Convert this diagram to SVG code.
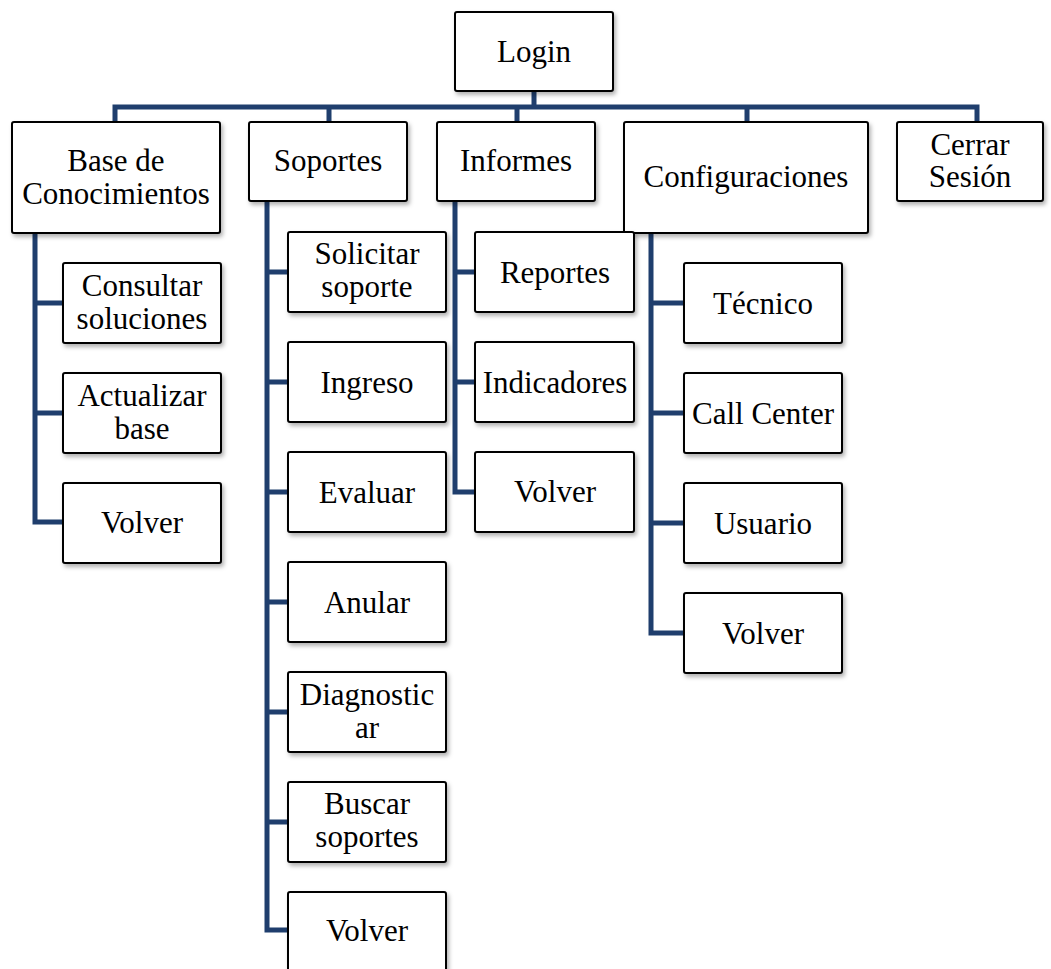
<svg xmlns="http://www.w3.org/2000/svg" width="1051" height="969" viewBox="0 0 1051 969">
  <style>
    .box { fill: #ffffff; stroke: #000000; stroke-width: 2; filter: url(#shadow); }
    .lbl { font-family: "Liberation Serif", "Times New Roman", serif; font-size: 31px; fill: #000000; text-anchor: middle; }
    .wire { fill: none; stroke: #1f3e6d; stroke-width: 5; stroke-linejoin: miter; stroke-linecap: butt; }
  </style>
  <defs>
    <filter id="shadow" x="-10%" y="-10%" width="130%" height="140%">
      <feDropShadow dx="2" dy="3" stdDeviation="2" flood-color="#000000" flood-opacity="0.3"/>
    </filter>
  </defs>
  <rect width="1051" height="969" fill="#ffffff"/>

  <!-- connectors -->
  <g id="connectors" class="wire">
    <!-- root to top-level menu -->
    <path class="wire" d="M534 91 V107 M115 122 V107 H977 V122 M329 107 V122 M517 107 V122 M747 107 V122"/>
    <!-- Base de Conocimientos -->
    <path class="wire" d="M35 233 V522 H63 M35 303 H63 M35 413 H63"/>
    <!-- Soportes -->
    <path class="wire" d="M267 201 V930 H288 M267 272 H288 M267 382 H288 M267 492 H288 M267 602 H288 M267 712 H288 M267 822 H288"/>
    <!-- Informes -->
    <path class="wire" d="M455 201 V492 H475 M455 272 H475 M455 382 H475"/>
    <!-- Configuraciones -->
    <path class="wire" d="M651 233 V633 H684 M651 303 H684 M651 413 H684 M651 523 H684"/>
  </g>

  <!-- root -->
  <g id="login">
    <rect class="box" x="455" y="12" width="158" height="79" rx="2"/>
    <text class="lbl" x="534" y="62">Login</text>
  </g>

  <!-- top-level menu -->
  <g id="base-conocimientos">
    <rect class="box" x="12" y="122" width="208" height="111" rx="2"/>
    <text class="lbl" x="116" y="171">Base de</text>
    <text class="lbl" x="116" y="204">Conocimientos</text>
  </g>
  <g id="soportes">
    <rect class="box" x="249" y="122" width="158" height="79" rx="2"/>
    <text class="lbl" x="328" y="171">Soportes</text>
  </g>
  <g id="informes">
    <rect class="box" x="437" y="122" width="158" height="79" rx="2"/>
    <text class="lbl" x="516" y="171">Informes</text>
  </g>
  <g id="configuraciones">
    <rect class="box" x="624" y="122" width="244" height="111" rx="2"/>
    <text class="lbl" x="746" y="187">Configuraciones</text>
  </g>
  <g id="cerrar-sesion">
    <rect class="box" x="897" y="122" width="146" height="79" rx="2"/>
    <text class="lbl" x="970" y="155">Cerrar</text>
    <text class="lbl" x="970" y="187">Sesión</text>
  </g>

  <!-- Base de Conocimientos items -->
  <g id="consultar-soluciones">
    <rect class="box" x="63" y="263" width="158" height="80" rx="2"/>
    <text class="lbl" x="142" y="296">Consultar</text>
    <text class="lbl" x="142" y="329">soluciones</text>
  </g>
  <g id="actualizar-base">
    <rect class="box" x="63" y="373" width="158" height="80" rx="2"/>
    <text class="lbl" x="142" y="406">Actualizar</text>
    <text class="lbl" x="142" y="439">base</text>
  </g>
  <g id="base-volver">
    <rect class="box" x="63" y="483" width="158" height="80" rx="2"/>
    <text class="lbl" x="142" y="533">Volver</text>
  </g>

  <!-- Soportes items -->
  <g id="solicitar-soporte">
    <rect class="box" x="288" y="232" width="158" height="80" rx="2"/>
    <text class="lbl" x="367" y="264">Solicitar</text>
    <text class="lbl" x="367" y="297">soporte</text>
  </g>
  <g id="ingreso">
    <rect class="box" x="288" y="342" width="158" height="80" rx="2"/>
    <text class="lbl" x="367" y="393">Ingreso</text>
  </g>
  <g id="evaluar">
    <rect class="box" x="288" y="452" width="158" height="80" rx="2"/>
    <text class="lbl" x="367" y="503">Evaluar</text>
  </g>
  <g id="anular">
    <rect class="box" x="288" y="562" width="158" height="80" rx="2"/>
    <text class="lbl" x="367" y="613">Anular</text>
  </g>
  <g id="diagnosticar">
    <rect class="box" x="288" y="672" width="158" height="80" rx="2"/>
    <text class="lbl" x="367" y="705">Diagnostic</text>
    <text class="lbl" x="367" y="738">ar</text>
  </g>
  <g id="buscar-soportes">
    <rect class="box" x="288" y="782" width="158" height="80" rx="2"/>
    <text class="lbl" x="367" y="814">Buscar</text>
    <text class="lbl" x="367" y="847">soportes</text>
  </g>
  <g id="soportes-volver">
    <rect class="box" x="288" y="892" width="158" height="80" rx="2"/>
    <text class="lbl" x="367" y="941">Volver</text>
  </g>

  <!-- Informes items -->
  <g id="reportes">
    <rect class="box" x="475" y="232" width="159" height="80" rx="2"/>
    <text class="lbl" x="555" y="283">Reportes</text>
  </g>
  <g id="indicadores">
    <rect class="box" x="475" y="342" width="159" height="80" rx="2"/>
    <text class="lbl" x="555" y="393">Indicadores</text>
  </g>
  <g id="informes-volver">
    <rect class="box" x="475" y="452" width="159" height="80" rx="2"/>
    <text class="lbl" x="555" y="502">Volver</text>
  </g>

  <!-- Configuraciones items -->
  <g id="tecnico">
    <rect class="box" x="684" y="263" width="158" height="80" rx="2"/>
    <text class="lbl" x="763" y="314">Técnico</text>
  </g>
  <g id="call-center">
    <rect class="box" x="684" y="373" width="158" height="80" rx="2"/>
    <text class="lbl" x="763" y="424">Call Center</text>
  </g>
  <g id="usuario">
    <rect class="box" x="684" y="483" width="158" height="80" rx="2"/>
    <text class="lbl" x="763" y="534">Usuario</text>
  </g>
  <g id="config-volver">
    <rect class="box" x="684" y="593" width="158" height="80" rx="2"/>
    <text class="lbl" x="763" y="644">Volver</text>
  </g>
</svg>
